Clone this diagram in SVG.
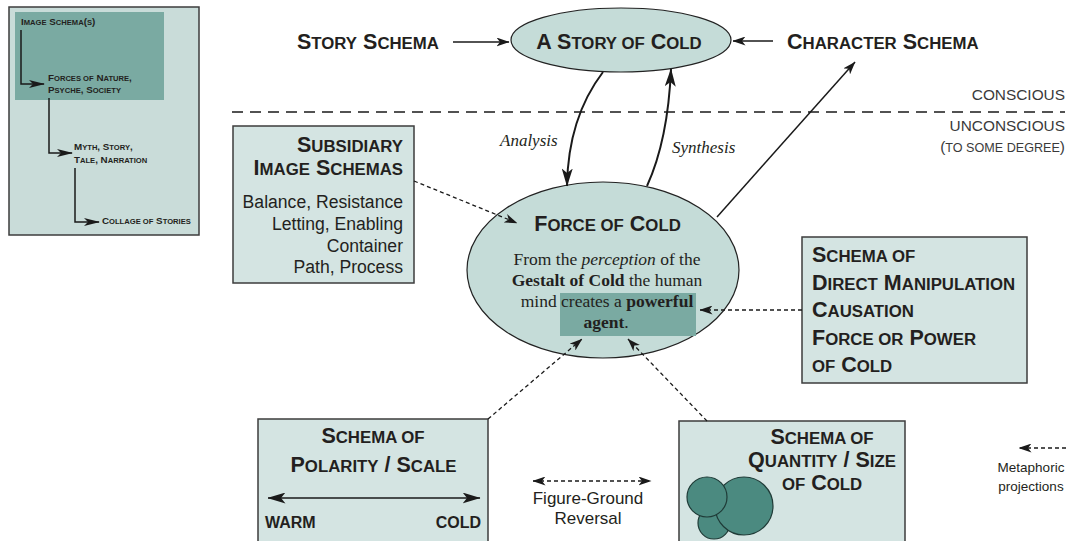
<svg xmlns="http://www.w3.org/2000/svg" width="1067" height="541" viewBox="0 0 1067 541">
<style>
.cap{font-family:"Liberation Sans",Arial,Helvetica,sans-serif;font-weight:bold;font-size:21.5px;fill:#231f20}
.sm{font-size:16.8px}
.lp{font-family:"Liberation Sans",Arial,Helvetica,sans-serif;font-weight:bold;font-size:9.8px;fill:#231f20}
.lps{font-size:7.6px}
.reg{font-family:"Liberation Sans",Arial,Helvetica,sans-serif;font-size:17.6px;fill:#231f20}
.gray{font-family:"Liberation Sans",Arial,Helvetica,sans-serif;font-size:15.4px;fill:#3a3a3a}
.gsm{font-size:12.6px}
.ser{font-family:"Liberation Serif","Times New Roman",serif;font-size:17.5px;fill:#231f20}
.it{font-style:italic}
.b{font-weight:bold}
.box{fill:#d4e4e2;stroke:#3d3d3d;stroke-width:1.5}
.ell{fill:#c5dcd8;stroke:#222;stroke-width:1.2}
.solid{fill:none;stroke:#1a1a1a;stroke-width:1.5}
.thick{fill:none;stroke:#1a1a1a;stroke-width:2}
.dash{fill:none;stroke:#1a1a1a;stroke-width:1.3;stroke-dasharray:4 3}
.circ{fill:#4b8a80;stroke:#1f3b37;stroke-width:1.2}
</style>
<defs>
<marker id="aS" viewBox="0 0 16 8" refX="15" refY="4" markerWidth="16" markerHeight="8" markerUnits="userSpaceOnUse" orient="auto-start-reverse"><path d="M0,0 L16,4 L0,8 L4,4 z" fill="#1a1a1a"/></marker>
<marker id="aM" viewBox="0 0 13 9" refX="12.5" refY="4.5" markerWidth="13" markerHeight="9" markerUnits="userSpaceOnUse" orient="auto-start-reverse"><path d="M0,0 L13,4.5 L0,9 L3.5,4.5 z" fill="#1a1a1a"/></marker>
<marker id="aL" viewBox="0 0 18 11" refX="17.5" refY="5.5" markerWidth="18" markerHeight="11" markerUnits="userSpaceOnUse" orient="auto-start-reverse"><path d="M0,0 L18,5.5 L0,11 L4.5,5.5 z" fill="#1a1a1a"/></marker>
</defs>

<g id="overview-panel">
<rect x="9" y="7" width="190" height="228" fill="#c9dcd9" stroke="#3d3d3d" stroke-width="1.5"/>
<rect x="15" y="12" width="149" height="88" fill="#7aaaa2"/>
<text class="lp" x="21" y="25">I<tspan class="lps">MAGE</tspan> S<tspan class="lps">CHEMA</tspan>(<tspan class="lps">S</tspan>)</text>
<text class="lp" x="48" y="81">F<tspan class="lps">ORCES OF</tspan> N<tspan class="lps">ATURE</tspan>,</text>
<text class="lp" x="48" y="93">P<tspan class="lps">SYCHE</tspan>, S<tspan class="lps">OCIETY</tspan></text>
<text class="lp" x="74" y="150">M<tspan class="lps">YTH</tspan>, S<tspan class="lps">TORY</tspan>,</text>
<text class="lp" x="74" y="163">T<tspan class="lps">ALE</tspan>, N<tspan class="lps">ARRATION</tspan></text>
<text class="lp" x="102" y="224">C<tspan class="lps">OLLAGE OF</tspan> S<tspan class="lps">TORIES</tspan></text>
<path class="solid" d="M21,30 V84 H44" marker-end="url(#aS)"/>
<path class="solid" d="M49,98 V153 H72" marker-end="url(#aS)"/>
<path class="solid" d="M75,168 V222 H99" marker-end="url(#aS)"/>
</g>

<g id="divider">
<line x1="232" y1="112" x2="1065" y2="112" stroke="#1a1a1a" stroke-width="1.5" stroke-dasharray="11 7"/>
<text class="gray" x="1065" y="100" text-anchor="end">CONSCIOUS</text>
<text class="gray" x="1065" y="131" text-anchor="end">UNCONSCIOUS</text>
<text class="gray" x="1065" y="152" text-anchor="end">(<tspan class="gsm">TO SOME DEGREE</tspan>)</text>
</g>

<g id="story-schema">
<text class="cap" x="297" y="49">S<tspan class="sm">TORY</tspan> S<tspan class="sm">CHEMA</tspan></text>
</g>

<g id="story-of-cold">
<ellipse class="ell" cx="621" cy="40" rx="110" ry="32"/>
<text class="cap" x="619" y="49" text-anchor="middle">A S<tspan class="sm">TORY OF</tspan> C<tspan class="sm">OLD</tspan></text>
</g>

<g id="character-schema">
<text class="cap" x="787" y="49">C<tspan class="sm">HARACTER</tspan> S<tspan class="sm">CHEMA</tspan></text>
</g>

<g id="subsidiary">
<rect class="box" x="233" y="126" width="181" height="157"/>
<text class="cap" x="403" y="152" text-anchor="end">S<tspan class="sm">UBSIDIARY</tspan></text>
<text class="cap" x="403" y="175" text-anchor="end">I<tspan class="sm">MAGE</tspan> S<tspan class="sm">CHEMAS</tspan></text>
<text class="reg" x="403" y="208" text-anchor="end">Balance, Resistance</text>
<text class="reg" x="403" y="230" text-anchor="end">Letting, Enabling</text>
<text class="reg" x="403" y="252" text-anchor="end">Container</text>
<text class="reg" x="403" y="273" text-anchor="end">Path, Process</text>
</g>

<g id="force-of-cold">
<ellipse class="ell" cx="603" cy="270" rx="136" ry="88"/>
<rect x="560" y="293" width="136" height="43" fill="#7aaaa2"/>
<text class="cap" x="607.5" y="231" text-anchor="middle">F<tspan class="sm">ORCE OF</tspan> C<tspan class="sm">OLD</tspan></text>
<text class="ser" x="607" y="265" text-anchor="middle">From the <tspan class="it">perception</tspan> of the</text>
<text class="ser" x="607" y="286" text-anchor="middle"><tspan class="b">Gestalt of Cold</tspan> the human</text>
<text class="ser" x="607" y="307" text-anchor="middle">mind creates a <tspan class="b">powerful</tspan></text>
<text class="ser" x="606" y="328" text-anchor="middle"><tspan class="b">agent</tspan>.</text>
</g>

<g id="direct-manipulation">
<rect class="box" x="802" y="237" width="225" height="146"/>
<text class="cap" x="812" y="262">S<tspan class="sm">CHEMA OF</tspan></text>
<text class="cap" x="812" y="289.5">D<tspan class="sm">IRECT</tspan> M<tspan class="sm">ANIPULATION</tspan></text>
<text class="cap" x="812" y="317">C<tspan class="sm">AUSATION</tspan></text>
<text class="cap" x="812" y="344.5">F<tspan class="sm">ORCE OR</tspan> P<tspan class="sm">OWER</tspan></text>
<text class="cap" x="812" y="372"><tspan class="sm">OF</tspan> C<tspan class="sm">OLD</tspan></text>
</g>

<g id="polarity-scale">
<rect class="box" x="258" y="419" width="230" height="135"/>
<text class="cap" x="373" y="443" text-anchor="middle">S<tspan class="sm">CHEMA OF</tspan></text>
<text class="cap" x="373.5" y="472" text-anchor="middle">P<tspan class="sm">OLARITY</tspan> / S<tspan class="sm">CALE</tspan></text>
<line class="solid" x1="268" y1="498" x2="480" y2="498" stroke-width="2" marker-start="url(#aL)" marker-end="url(#aL)"/>
<text class="cap" x="265" y="528" style="font-size:16px">WARM</text>
<text class="cap" x="481" y="528" text-anchor="end" style="font-size:16px">COLD</text>
</g>

<g id="figure-ground">
<line class="dash" x1="533" y1="481" x2="651" y2="481" marker-start="url(#aM)" marker-end="url(#aM)"/>
<text class="reg" x="588" y="504" text-anchor="middle" style="font-size:17px">Figure-Ground</text>
<text class="reg" x="588" y="524" text-anchor="middle" style="font-size:17px">Reversal</text>
</g>

<g id="quantity-size">
<rect class="box" x="679" y="421" width="226" height="135"/>
<text class="cap" x="822" y="444" text-anchor="middle">S<tspan class="sm">CHEMA OF</tspan></text>
<text class="cap" x="822" y="467" text-anchor="middle">Q<tspan class="sm">UANTITY</tspan> / S<tspan class="sm">IZE</tspan></text>
<text class="cap" x="822" y="490" text-anchor="middle"><tspan class="sm">OF</tspan> C<tspan class="sm">OLD</tspan></text>
<circle class="circ" cx="714" cy="523" r="16"/>
<circle class="circ" cx="744" cy="506" r="29"/>
<circle class="circ" cx="707" cy="497" r="20"/>
</g>

<g id="legend">
<line class="dash" x1="1066" y1="448" x2="1019" y2="448" marker-end="url(#aM)"/>
<text class="reg" x="1031" y="472" text-anchor="middle" style="font-size:13.5px">Metaphoric</text>
<text class="reg" x="1031" y="491" text-anchor="middle" style="font-size:13.5px">projections</text>
</g>

<g id="connectors">
<line class="solid" x1="453" y1="42" x2="509" y2="42" stroke-width="1.3" marker-end="url(#aM)"/>
<line class="solid" x1="773" y1="41" x2="733" y2="41" stroke-width="1.3" marker-end="url(#aM)"/>
<path class="thick" d="M603,72 Q568,118 567,186" marker-end="url(#aL)"/>
<path class="thick" d="M647,186 Q668,140 671,69" marker-end="url(#aL)"/>
<line class="solid" x1="717" y1="217" x2="855" y2="62" stroke-width="1.3" marker-end="url(#aM)"/>
<line class="dash" x1="414" y1="181" x2="517" y2="223" marker-end="url(#aM)"/>
<line class="dash" x1="802" y1="310" x2="700" y2="310" marker-end="url(#aM)"/>
<line class="dash" x1="488" y1="419" x2="582" y2="339" marker-end="url(#aM)"/>
<line class="dash" x1="707" y1="421" x2="628" y2="339" marker-end="url(#aM)"/>
<text class="ser it" x="500" y="146" style="font-size:17px">Analysis</text>
<text class="ser it" x="672" y="153" style="font-size:17px">Synthesis</text>
</g>
</svg>
